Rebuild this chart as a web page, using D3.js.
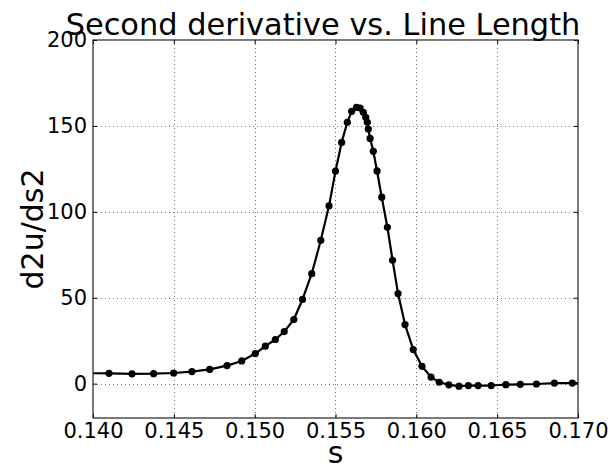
<!DOCTYPE html>
<html>
<head>
<meta charset="utf-8">
<script src="https://cdn.jsdelivr.net/npm/d3@7/dist/d3.min.js"></script>
<style>
  html, body { margin: 0; padding: 0; background: #fff; }
  svg { display: block; font-family: "DejaVu Sans", sans-serif; }
</style>
</head>
<body>
<svg id="chart" width="612" height="468"></svg>
<script>
// Line length samples (s) and second derivative values (d2u/ds2)
const sValues = [
  0.1390, 0.14099, 0.14241, 0.14375, 0.14499, 0.14612, 0.14722, 0.14829, 0.14920,
  0.15004, 0.15066, 0.15128, 0.15183, 0.15242, 0.15296, 0.15353, 0.15409,
  0.15460, 0.15500, 0.15538, 0.15573, 0.15600, 0.15630, 0.15652, 0.15672,
  0.15687, 0.15697, 0.15703, 0.15714, 0.15734, 0.15757, 0.15786, 0.15821,
  0.15853, 0.15887, 0.15930, 0.15981, 0.16035, 0.16091, 0.16142, 0.16201,
  0.16264, 0.16322, 0.16382, 0.16463, 0.16554, 0.16643, 0.16743, 0.16854,
  0.16965, 0.1710
];
const d2uValues = [
  6.1, 6.0, 5.7, 5.8, 6.2, 7.0, 8.3, 10.5, 13.2,
  17.5, 21.8, 25.7, 30.3, 37.3, 49.0, 64.0, 83.4,
  103.5, 123.7, 140.4, 152.1, 158.5, 160.8, 160.4, 157.9,
  155.0, 152.1, 148.2, 142.7, 135.2, 123.8, 108.5, 91.0,
  71.8, 52.4, 34.4, 19.8, 10.1, 3.8, 0.8, -0.7,
  -1.5, -1.1, -1.1, -1.1, -0.6, -0.4, -0.2, 0.3,
  0.3, 0.4
];

const xTicks = [0.140, 0.145, 0.150, 0.155, 0.160, 0.165, 0.170];
const yTicks = [0, 50, 100, 150, 200];

const titleText = "Second derivative vs. Line Length";
const xLabel = "s";
const yLabel = "d2u/ds2";

const svg = d3.select("#chart");
const margin = { left: 93, right: 34, top: 40, bottom: 50 };
const W = 612, H = 468;
const x0 = margin.left, x1 = W - margin.right;
const y0 = margin.top, y1 = H - margin.bottom;

const x = d3.scaleLinear().domain([0.140, 0.170]).range([x0, x1]);
const y = d3.scaleLinear().domain([-20, 200]).range([y1, y0]);

const points = sValues.map((s, i) => ({ s, v: d2uValues[i] }));

svg.append("defs").append("clipPath").attr("id", "plot-clip")
  .append("rect").attr("x", x0).attr("y", y0).attr("width", x1 - x0).attr("height", y1 - y0);

// Dotted grid
const grid = svg.append("g").attr("class", "grid");
grid.selectAll("line.vx").data(xTicks.slice(1, -1)).join("line")
  .attr("x1", d => Math.round(x(d)) + 0.5).attr("x2", d => Math.round(x(d)) + 0.5)
  .attr("y1", y0).attr("y2", y1)
  .attr("stroke", "#777").attr("stroke-width", 1).attr("stroke-dasharray", "1,3");
grid.selectAll("line.hy").data(yTicks.filter(d => d !== 200)).join("line")
  .attr("y1", d => Math.round(y(d)) + 0.5).attr("y2", d => Math.round(y(d)) + 0.5)
  .attr("x1", x0).attr("x2", x1)
  .attr("stroke", "#777").attr("stroke-width", 1).attr("stroke-dasharray", "1,3");

// Axes with inward ticks on all sides
const tickFmt = d3.format(".3f");
const axBottom = svg.append("g").attr("transform", `translate(0,${y1})`)
  .call(d3.axisBottom(x).tickValues(xTicks).tickFormat(tickFmt).tickSizeInner(-4).tickSizeOuter(0).tickPadding(5));
const axTop = svg.append("g").attr("transform", `translate(0,${y0})`)
  .call(d3.axisTop(x).tickValues(xTicks).tickFormat("").tickSizeInner(-4).tickSizeOuter(0));
const axLeft = svg.append("g").attr("transform", `translate(${x0},0)`)
  .call(d3.axisLeft(y).tickValues(yTicks).tickSizeInner(-4).tickSizeOuter(0).tickPadding(6));
const axRight = svg.append("g").attr("transform", `translate(${x1},0)`)
  .call(d3.axisRight(y).tickValues(yTicks).tickFormat("").tickSizeInner(-4).tickSizeOuter(0));

[axBottom, axTop, axLeft, axRight].forEach(g => {
  g.select(".domain").remove();
  g.selectAll(".tick line").attr("stroke", "#000").attr("stroke-width", 1);
  g.selectAll(".tick text").attr("fill", "#000").attr("font-size", 21)
    .attr("font-family", "DejaVu Sans, sans-serif");
});

// Data line and markers
const plot = svg.append("g").attr("clip-path", "url(#plot-clip)");
plot.append("path").datum(points)
  .attr("d", d3.line().x(d => x(d.s)).y(d => y(d.v)))
  .attr("fill", "none").attr("stroke", "#000").attr("stroke-width", 2.2)
  .attr("stroke-linejoin", "round");
plot.selectAll("circle").data(points).join("circle")
  .attr("cx", d => x(d.s)).attr("cy", d => y(d.v)).attr("r", 3.6)
  .attr("fill", "#000");

// Frame
svg.append("rect").attr("x", x0).attr("y", y0)
  .attr("width", x1 - x0).attr("height", y1 - y0)
  .attr("fill", "none").attr("stroke", "#222").attr("stroke-width", 1.2);

// Title and axis labels
svg.append("text").attr("x", 323).attr("y", 35).attr("text-anchor", "middle")
  .attr("font-size", 30.4).attr("fill", "#000").text(titleText);
svg.append("text").attr("x", (x0 + x1) / 2).attr("y", 463).attr("text-anchor", "middle")
  .attr("font-size", 30).attr("fill", "#000").text(xLabel);
svg.append("text").attr("transform", `translate(43,${(y0 + y1) / 2}) rotate(-90)`)
  .attr("text-anchor", "middle").attr("font-size", 30).attr("fill", "#000").text(yLabel);
</script>
</body>
</html>
